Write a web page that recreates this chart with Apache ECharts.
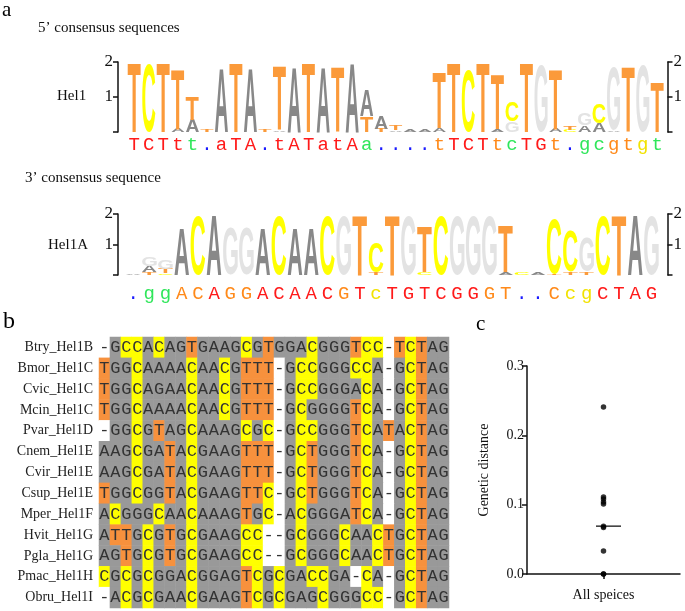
<!DOCTYPE html>
<html>
<head>
<meta charset="utf-8">
<script src="https://cdn.jsdelivr.net/npm/echarts@6/dist/echarts.min.js"></script>
<style>
  html, body { margin: 0; padding: 0; background: #fff; }
  #main { width: 685px; height: 611px; }
</style>
</head>
<body>
<div id="main"></div>
<script>
// consensus strings under the logos
const hel1Consensus = 'TCTtt.aTA.tATatAa....tTCTtcTGt.gcgtgt'.split('');
const hel1aConsensus = '.ggACAGGACAACGTcTGTCGGGT..CcgCTAG'.split('');

// logo stacks, bottom to top: [letter, bits]
const hel1Stacks = [
  [['T', 1.95]], [['C', 1.95]], [['T', 1.95]], [['A', 0.1], ['T', 1.7]],
  [['A', 0.35], ['T', 0.65]], [['T', 0.08]], [['A', 1.8]], [['T', 1.95]],
  [['A', 1.8]], [['T', 0.08]], [['A', 0.05], ['T', 1.8]], [['A', 1.85]],
  [['T', 1.95]], [['A', 1.85]], [['T', 1.85]], [['A', 1.95]],
  [['T', 0.45], ['A', 0.75]], [['T', 0.1], ['A', 0.35]], [['A', 0.05], ['T', 0.15]],
  [['A', 0.08]], [['A', 0.08]], [['A', 0.12], ['T', 1.6]], [['T', 1.95]],
  [['C', 1.75]], [['T', 1.95]], [['A', 0.08], ['T', 1.55]], [['G', 0.3], ['C', 0.55]],
  [['T', 1.95]], [['G', 1.9]], [['A', 0.1], ['T', 1.7]], [['C', 0.06], ['T', 0.1]],
  [['A', 0.2], ['G', 0.35]], [['A', 0.25], ['C', 0.55]], [['A', 0.05], ['G', 1.8]],
  [['T', 1.85]], [['G', 1.9]], [['T', 1.4]]
];
const hel1aStacks = [
  [['A', 0.05]], [['T', 0.1], ['A', 0.2], ['G', 0.3]], [['C', 0.05], ['T', 0.15], ['G', 0.3]],
  [['A', 1.55]], [['C', 1.95]], [['A', 1.95]], [['G', 1.55]], [['G', 1.55]],
  [['A', 1.55]], [['C', 1.95]], [['A', 1.55]], [['A', 1.55]], [['C', 1.95]],
  [['G', 1.95]], [['T', 1.95]], [['T', 0.1], ['C', 1.0]], [['T', 1.95]],
  [['G', 1.95]], [['C', 0.1], ['T', 1.5]], [['C', 1.95]], [['G', 1.95]],
  [['G', 1.95]], [['G', 1.95]], [['A', 0.1], ['T', 1.55]], [['C', 0.1]],
  [['A', 0.08]], [['T', 0.05], ['C', 1.8]], [['T', 0.1], ['C', 1.35]],
  [['T', 0.1], ['G', 1.1]], [['C', 1.95]], [['T', 1.95]], [['A', 1.95]], [['G', 1.95]]
];
const logoTicks = [0, 1, 2];

// alignment
const rowNames = ['Btry_Hel1B', 'Bmor_Hel1C', 'Cvic_Hel1C', 'Mcin_Hel1C', 'Pvar_Hel1D',
  'Cnem_Hel1E', 'Cvir_Hel1E', 'Csup_Hel1E', 'Mper_Hel1F', 'Hvit_Hel1G', 'Pgla_Hel1G',
  'Pmac_Hel1H', 'Obru_Hel1I'];
const sequences = [
  '-GCCACAGTGAAGCGTGGACGGGTCC-TCTAG',
  'TGGCAAAACAACGTTT-GCCGGGCCA-GCTAG',
  'TGGCAGAACAACGTTT-GCCGGGACA-GCTAG',
  'TGGCAAAACAACGTTT-GCGGGGTCA-GCTAG',
  '-GGCGTAGCAAAGCGC-GCCGGGTCATACTAG',
  'AAGCGATACGAAGTTT-GCTGGGTCA-GCTAG',
  'AAGCGATACGAAGTTT-GCTGGGTCA-GCTAG',
  'TGGCGGTACGAAGTTC-GCTGGGTCA-GCTAG',
  'ACGGGCAACAAAGTGC-ACGGGATCA-GCTAG',
  'ATTGCGTGCGAAGCC--GCGGGCAACTGCTAG',
  'AGTGCGTGCGAAGCC--GCGGGCAACTGCTAG',
  'CGCGCGGACGGAGTCGCGACCGA-CA-GCTAG',
  '-ACGCGAACGAAGTCGCGAGCGGGCC-GCTAG'
];

// panel c
const distCategory = ['All speices'];
const distValues = [0.241, 0.111, 0.108, 0.104, 0.101, 0.069, 0.067, 0.033, 0, 0];
const distMedian = 0.069;
const distTicks = [0, 0.1, 0.2, 0.3];

// styles
const consColorCodes1 = 'rrrrgbrrrbrrrrrrgbbbborrrogrrobggooyg';
const consColorCodes2 = 'bggooroorrrrroryrrrrrroobboyyrrrr';
const consPalette = { r: '#ff1a1a', g: '#2fe65a', b: '#1a1aff', o: '#ff8a1a', y: '#f2e200' };
const logoColors = { T: '#fb9a3a', C: '#ffff00', A: '#888888', G: '#e3e3e3' };
const cellCode = { A: 0, G: 0, C: 1, T: 2, '-': 3 };

const serif = 'Liberation Serif';
const logoFont = 'bold 100px "Liberation Sans"';

// measure real glyph ink boxes so stretched letters sit exactly on their stack
const glyphBox = {};
(function () {
  const ctx = document.createElement('canvas').getContext('2d');
  ctx.font = logoFont;
  ctx.textBaseline = 'middle';
  ctx.textAlign = 'center';
  ['A', 'C', 'G', 'T'].forEach(function (ch) {
    const m = ctx.measureText(ch);
    glyphBox[ch] = {
      asc: m.actualBoundingBoxAscent, desc: m.actualBoundingBoxDescent,
      left: m.actualBoundingBoxLeft, right: m.actualBoundingBoxRight
    };
  });
})();

function logoRender(stacks) {
  return function (params, api) {
    const i = api.value(0);
    const base = api.coord([i, 0]);
    const one = api.coord([i, 1]);
    const bit = base[1] - one[1];
    const bw = api.size([1, 0])[0];
    const children = [];
    let y = base[1];
    stacks[i].forEach(function (s) {
      const ch = s[0];
      const ph = s[1] * bit;
      const g = glyphBox[ch];
      if (ph >= 0.6) {
        const sx = (bw * 0.9) / (g.left + g.right);
        const sy = ph / (g.asc + g.desc);
        children.push({
          type: 'text',
          x: base[0] - ((g.right - g.left) / 2) * sx,
          y: y - g.desc * sy,
          scaleX: sx,
          scaleY: sy,
          style: {
            text: ch, fontSize: 100, fontFamily: 'Liberation Sans', fontWeight: 'bold',
            fill: logoColors[ch], align: 'center', verticalAlign: 'middle'
          }
        });
      }
      y -= ph;
    });
    return { type: 'group', children: children };
  };
}

function logoYAxis(gridIndex, position, offset, margin) {
  return {
    type: 'value', gridIndex: gridIndex, position: position, offset: offset,
    min: logoTicks[0], max: logoTicks[logoTicks.length - 1], interval: 1,
    axisLine: { show: true, lineStyle: { color: '#111', width: 1.5 } },
    axisTick: { show: true, length: 5, lineStyle: { color: '#111', width: 1.5 } },
    axisLabel: {
      margin: margin, fontFamily: serif, fontSize: 17, color: '#111',
      formatter: function (v) { return v === 0 ? '' : String(v); }
    },
    splitLine: { show: false }
  };
}

function logoXAxis(gridIndex, data, codes, margin) {
  return {
    type: 'category', gridIndex: gridIndex, data: data,
    axisLine: { show: false }, axisTick: { show: false },
    axisLabel: {
      interval: 0, margin: margin, fontFamily: 'Liberation Mono', fontSize: 19,
      color: function (v, idx) { return consPalette[codes[idx]]; }
    }
  };
}

const alignData = [];
sequences.forEach(function (seq, r) {
  seq.split('').forEach(function (ch, c) {
    alignData.push([c, r, cellCode[ch]]);
  });
});

const chart = echarts.init(document.getElementById('main'));
chart.setOption({
  animation: false,
  backgroundColor: '#fff',
  textStyle: { fontFamily: serif },
  grid: [
    { left: 127, top: 62, width: 538, height: 70 },
    { left: 125, top: 214, width: 536, height: 61 },
    { left: 99, top: 337, width: 350, height: 271 },
    { left: 527, top: 366, width: 153, height: 208 }
  ],
  xAxis: [
    logoXAxis(0, hel1Consensus, consColorCodes1, 3),
    logoXAxis(1, hel1aConsensus, consColorCodes2, 9),
    {
      type: 'category', gridIndex: 2, data: sequences[0].split('').map(function (c, i) { return i; }),
      axisLine: { show: false }, axisTick: { show: false }, axisLabel: { show: false }
    },
    {
      type: 'category', gridIndex: 3, data: distCategory,
      axisLine: { show: true, lineStyle: { color: '#111', width: 1.5 } },
      axisTick: { show: true, alignWithLabel: true, length: 5, lineStyle: { color: '#111', width: 1.5 } },
      axisLabel: { margin: 14, fontFamily: serif, fontSize: 14, color: '#111' }
    }
  ],
  yAxis: [
    logoYAxis(0, 'left', 9, 5),
    logoYAxis(0, 'right', 3, 6),
    logoYAxis(1, 'left', 7, 5),
    logoYAxis(1, 'right', 8, 6),
    {
      type: 'category', gridIndex: 2, data: rowNames, inverse: true,
      axisLine: { show: false }, axisTick: { show: false },
      axisLabel: { margin: 6, fontFamily: serif, fontSize: 14, color: '#222' }
    },
    {
      type: 'value', gridIndex: 3, min: distTicks[0], max: distTicks[distTicks.length - 1], interval: 0.1,
      name: 'Genetic distance', nameLocation: 'middle', nameGap: 36,
      nameTextStyle: { fontFamily: serif, fontSize: 14, color: '#111' },
      axisLine: { show: true, lineStyle: { color: '#111', width: 1.5 } },
      axisTick: { show: true, length: 5, lineStyle: { color: '#111', width: 1.5 } },
      axisLabel: {
        margin: 3, fontFamily: serif, fontSize: 14, color: '#111',
        formatter: function (v) { return v.toFixed(1); }
      },
      splitLine: { show: false }
    }
  ],
  visualMap: {
    show: false, type: 'piecewise', dimension: 2, seriesIndex: 2,
    pieces: [
      { value: 0, color: '#999999' },
      { value: 1, color: '#ffff00' },
      { value: 2, color: '#f7913d' },
      { value: 3, color: '#ffffff' }
    ]
  },
  series: [
    {
      type: 'custom', xAxisIndex: 0, yAxisIndex: 0,
      renderItem: logoRender(hel1Stacks),
      data: hel1Stacks.map(function (s, i) { return [i, 0]; })
    },
    {
      type: 'custom', xAxisIndex: 1, yAxisIndex: 2,
      renderItem: logoRender(hel1aStacks),
      data: hel1aStacks.map(function (s, i) { return [i, 0]; })
    },
    {
      type: 'heatmap', xAxisIndex: 2, yAxisIndex: 4,
      data: alignData,
      itemStyle: { borderWidth: 0 },
      label: {
        show: true, fontFamily: 'Liberation Mono', fontSize: 17, color: '#333',
        formatter: function (p) { return sequences[p.value[1]][p.value[0]]; }
      },
      emphasis: { disabled: true }
    },
    {
      type: 'scatter', xAxisIndex: 3, yAxisIndex: 5,
      symbolSize: 5.5, itemStyle: { color: '#000' },
      data: distValues.map(function (v) { return [0, v]; })
    },
    {
      type: 'scatter', xAxisIndex: 3, yAxisIndex: 5,
      symbol: 'rect', symbolSize: [25, 1.5], symbolOffset: [5, 0],
      itemStyle: { color: '#000' },
      data: [[0, distMedian]]
    }
  ],
  graphic: [
    { type: 'text', x: 2, y: 10, style: { text: 'a', fontFamily: serif, fontSize: 21, fill: '#000', verticalAlign: 'middle' } },
    { type: 'text', x: 38, y: 28, style: { text: '5’ consensus sequences', fontFamily: serif, fontSize: 15, fill: '#111', verticalAlign: 'middle' } },
    { type: 'text', x: 57, y: 96, style: { text: 'Hel1', fontFamily: serif, fontSize: 15, fill: '#111', verticalAlign: 'middle' } },
    { type: 'text', x: 25, y: 178, style: { text: '3’ consensus sequence', fontFamily: serif, fontSize: 15, fill: '#111', verticalAlign: 'middle' } },
    { type: 'text', x: 48, y: 245, style: { text: 'Hel1A', fontFamily: serif, fontSize: 15, fill: '#111', verticalAlign: 'middle' } },
    { type: 'text', x: 3, y: 322, style: { text: 'b', fontFamily: serif, fontSize: 24, fill: '#000', verticalAlign: 'middle' } },
    { type: 'text', x: 476, y: 324, style: { text: 'c', fontFamily: serif, fontSize: 21, fill: '#000', verticalAlign: 'middle' } }
  ]
});
</script>
</body>
</html>
